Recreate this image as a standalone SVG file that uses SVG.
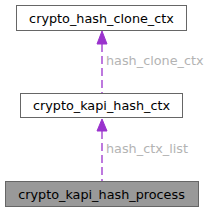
<svg xmlns="http://www.w3.org/2000/svg" width="213" height="212" viewBox="0 0 213 212">
<style>
.node rect{fill:#fff;stroke:#666;stroke-width:1}
.node text{font-family:"DejaVu Sans",sans-serif;font-size:12.8px;text-anchor:middle;fill:#000}
.edge line{stroke:#9a32cd;stroke-width:1.3;stroke-dasharray:8,4}
.edge polygon{fill:#9a32cd;stroke:#9a32cd}
.lbl{font-family:"DejaVu Sans",sans-serif;font-size:12.8px;fill:#b3b3b3}
</style>
<rect width="213" height="212" fill="#fff"/>
<g id="connectors" class="edge">
<line x1="102" y1="44" x2="102" y2="93"/>
<polygon points="102,31 97,44 107,44"/>
<text class="lbl" x="106" y="65">hash_clone_ctx</text>
<line x1="102" y1="131" x2="102" y2="181"/>
<polygon points="102,119 97,131 107,131"/>
<text class="lbl" x="106" y="153">hash_ctx_list</text>
</g>
<g id="node1" class="node">
<rect x="16.5" y="5.5" width="170" height="25"/>
<text x="101.5" y="22.5">crypto_hash_clone_ctx</text>
</g>
<g id="node2" class="node">
<rect x="20.5" y="93.5" width="162" height="24"/>
<text x="101.5" y="110">crypto_kapi_hash_ctx</text>
</g>
<g id="node3" class="node">
<rect x="5.5" y="181.5" width="193" height="25" style="fill:#999"/>
<text x="101.5" y="198.5">crypto_kapi_hash_process</text>
</g>
</svg>
